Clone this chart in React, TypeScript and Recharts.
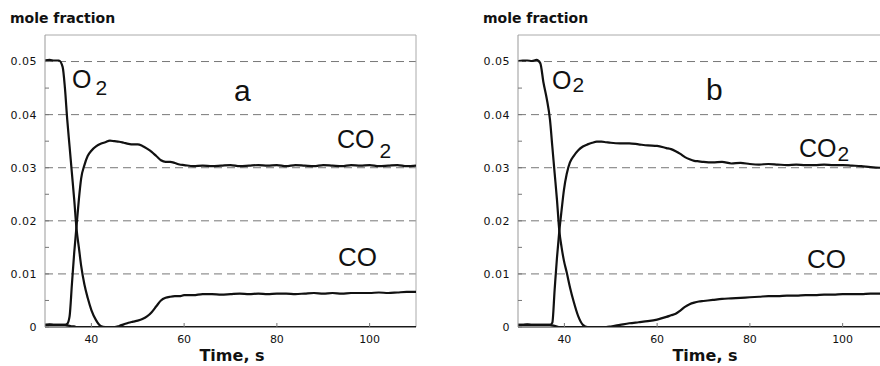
import { LineChart, Line, XAxis, YAxis, ReferenceLine } from 'recharts';

// panel a
const timeA = [30, 31, 32, 33, 33.8, 34.3, 34.8, 35.3, 35.8, 36.3, 36.8, 37.3, 37.8, 38.5, 39.2, 40, 41, 42, 43, 44, 45, 46, 47, 48, 49, 50, 51, 52, 53, 54, 55, 56, 57, 58, 59, 60, 62, 64, 66, 68, 70, 72, 74, 76, 78, 80, 82, 84, 86, 88, 90, 92, 94, 96, 98, 100, 102, 104, 106, 108, 110];
const o2A = [0.0502, 0.0503, 0.0502, 0.0502, 0.049, 0.045, 0.039, 0.034, 0.029, 0.024, 0.0185, 0.015, 0.0115, 0.008, 0.0055, 0.0032, 0.0013, 0.0002, 0, 0, 0, 0, 0, 0, 0, 0, 0, 0, 0, 0, 0, 0, 0, 0, 0, 0, 0, 0, 0, 0, 0, 0, 0, 0, 0, 0, 0, 0, 0, 0, 0, 0, 0, 0, 0, 0, 0, 0, 0, 0, 0];
const co2A = [0.0004, 0.0005, 0.0004, 0.0004, 0.0004, 0.0004, 0.0006, 0.002, 0.008, 0.014, 0.019, 0.024, 0.028, 0.0305, 0.0322, 0.0332, 0.034, 0.0345, 0.0348, 0.0351, 0.035, 0.0349, 0.0347, 0.0345, 0.0344, 0.0344, 0.0341, 0.0336, 0.033, 0.0322, 0.0314, 0.0311, 0.0311, 0.0309, 0.0306, 0.0305, 0.0303, 0.0304, 0.0303, 0.0304, 0.0305, 0.0303, 0.0304, 0.0305, 0.0304, 0.0305, 0.0303, 0.0305, 0.0304, 0.0303, 0.0305, 0.0304, 0.0303, 0.0305, 0.0304, 0.0305, 0.0303, 0.0304, 0.0305, 0.0303, 0.0304];
const coA = [0.0004, 0.0004, 0.0004, 0.0004, 0.0004, 0.0004, 0.0003, 0.0002, 0.0001, 0.0001, 0, 0, 0, 0, 0, 0, 0, 0, 0, 0, 0, 0.0002, 0.0005, 0.0008, 0.001, 0.0012, 0.0015, 0.002, 0.0028, 0.0039, 0.005, 0.0055, 0.0057, 0.0058, 0.0058, 0.006, 0.006, 0.0062, 0.0062, 0.0061, 0.0062, 0.0063, 0.0062, 0.0063, 0.0062, 0.0063, 0.0063, 0.0062, 0.0063, 0.0064, 0.0063, 0.0064, 0.0063, 0.0064, 0.0064, 0.0064, 0.0065, 0.0064, 0.0065, 0.0066, 0.0066];

// panel b
const timeB = [30, 31, 32, 33, 34, 34.8, 35.5, 36.2, 36.9, 37.4, 37.9, 38.4, 38.9, 39.4, 39.9, 40.5, 41.2, 42, 43, 44, 45, 46, 47, 48, 49, 50, 52, 54, 56, 58, 60, 62, 63, 64, 65, 66, 67, 68, 69, 70, 72, 74, 76, 78, 80, 82, 84, 86, 88, 90, 92, 94, 96, 98, 100, 102, 104, 106, 108, 110];
const o2B = [0.0501, 0.0502, 0.0502, 0.0501, 0.0503, 0.0497, 0.046, 0.043, 0.039, 0.034, 0.029, 0.024, 0.0182, 0.015, 0.0125, 0.0103, 0.0075, 0.0048, 0.002, 0.0004, 0, 0, 0, 0, 0, 0, 0, 0, 0, 0, 0, 0, 0, 0, 0, 0, 0, 0, 0, 0, 0, 0, 0, 0, 0, 0, 0, 0, 0, 0, 0, 0, 0, 0, 0, 0, 0, 0, 0, 0];
const co2B = [0.0004, 0.0004, 0.0005, 0.0004, 0.0004, 0.0004, 0.0004, 0.0004, 0.0004, 0.0008, 0.007, 0.013, 0.018, 0.022, 0.0258, 0.0288, 0.031, 0.0322, 0.0333, 0.034, 0.0344, 0.0347, 0.0349, 0.0349, 0.0348, 0.0347, 0.0346, 0.0346, 0.0344, 0.0342, 0.0341, 0.0337, 0.0335, 0.0331, 0.0326, 0.032, 0.0316, 0.0313, 0.0312, 0.0311, 0.031, 0.0311, 0.0308, 0.0309, 0.0307, 0.0306, 0.0307, 0.0306, 0.0305, 0.0306, 0.0305, 0.0305, 0.0306, 0.0305, 0.0305, 0.0304, 0.0303, 0.0301, 0.03, 0.0302];
const coB = [0.0004, 0.0004, 0.0004, 0.0004, 0.0004, 0.0004, 0.0004, 0.0004, 0.0004, 0.0003, 0.0002, 0.0001, 0, 0, 0, 0, 0, 0, 0, 0, 0, 0, 0, 0, 0, 0.0001, 0.0004, 0.0007, 0.0009, 0.0011, 0.0014, 0.0019, 0.0022, 0.0025, 0.0031, 0.0038, 0.0043, 0.0046, 0.0048, 0.0049, 0.0051, 0.0053, 0.0054, 0.0055, 0.0056, 0.0057, 0.0058, 0.0058, 0.0059, 0.0059, 0.006, 0.006, 0.0061, 0.0061, 0.0062, 0.0062, 0.0062, 0.0063, 0.0063, 0.0063];

const yTicks = [0, 0.005, 0.01, 0.015, 0.02, 0.025, 0.03, 0.035, 0.04, 0.045, 0.05];
const gridValues = [0.01, 0.02, 0.03, 0.04, 0.05];
const xTicks = [40, 60, 80, 100];

const tickFont = { fontFamily: '"DejaVu Sans", sans-serif', fontSize: 11 };
const annFont = '"Liberation Sans", Arial, sans-serif';

const YTick = (props: any) => {
  const { x, y, payload } = props;
  const v = payload.value;
  const major = Math.abs(v * 100 - Math.round(v * 100)) < 1e-6;
  const label = v === 0 ? '0' : v.toFixed(2);
  return (
    <g>
      <line x1={x + 8} x2={x + 12} y1={y} y2={y} stroke="#777" strokeWidth={1} />
      {major && (
        <text x={x} y={y} dy="0.355em" textAnchor="end" fill="#111" letterSpacing={0.5} {...tickFont}>
          {label}
        </text>
      )}
    </g>
  );
};

const XTick = (props: any) => {
  const { x, y, payload } = props;
  return (
    <g>
      <line x1={x} x2={x} y1={y - 8} y2={y - 12} stroke="#777" strokeWidth={1} />
      <text x={x} y={y} dy="0.71em" textAnchor="middle" fill="#111" {...tickFont}>
        {payload.value}
      </text>
    </g>
  );
};

type Ann = {
  o2: [number, number, number, number];
  tag: string;
  tagPos: [number, number];
  co2: [number, number, number, number];
  co: [number, number];
};

function Panel({ time, o2, co2, co, ann }: { time: number[]; o2: number[]; co2: number[]; co: number[]; ann: Ann }) {
  const rows = time.map((t, i) => ({ t, o2: o2[i], co2: co2[i], co: co[i] }));
  return (
    <div style={{ position: 'relative', width: 440, height: 366 }}>
      <LineChart width={440} height={366} data={rows} margin={{ top: 35, right: 24, bottom: 0, left: 0 }}>
        <XAxis
          dataKey="t"
          type="number"
          domain={[30, 110]}
          ticks={xTicks}
          allowDataOverflow
          height={39}
          tickLine={false}
          stroke="#222"
          tick={<XTick />}
        />
        <YAxis
          type="number"
          domain={[0, 0.055]}
          ticks={yTicks}
          allowDataOverflow
          width={45}
          tickLine={false}
          stroke="#999"
          tick={<YTick />}
        />
        {gridValues.map((g) => (
          <ReferenceLine key={g} y={g} stroke="#777" strokeDasharray="8 5" strokeWidth={1} />
        ))}
        <ReferenceLine y={0.055} stroke="#aaa" strokeWidth={1} />
        <ReferenceLine x={110} stroke="#aaa" strokeWidth={1} />
        <Line type="monotone" dataKey="o2" stroke="#111" strokeWidth={2.2} dot={false} isAnimationActive={false} />
        <Line type="monotone" dataKey="co2" stroke="#111" strokeWidth={2.2} dot={false} isAnimationActive={false} />
        <Line type="monotone" dataKey="co" stroke="#111" strokeWidth={2.2} dot={false} isAnimationActive={false} />
      </LineChart>
      <svg width={440} height={366} style={{ position: 'absolute', left: 0, top: 0, pointerEvents: 'none' }}>
        <text x={10} y={23} fontFamily='"DejaVu Sans", sans-serif' fontWeight="bold" fontSize={14} fill="#111">
          mole fraction
        </text>
        <text x={232} y={361} textAnchor="middle" fontFamily='"DejaVu Sans", sans-serif' fontWeight="bold" fontSize={16} fill="#111">
          Time, s
        </text>
        <text x={ann.o2[0]} y={ann.o2[1]} fontFamily={annFont} fontSize={25} fill="#111">
          O
          <tspan dx={ann.o2[2]} dy={ann.o2[3]} fontSize={21}>2</tspan>
        </text>
        <text x={ann.tagPos[0]} y={ann.tagPos[1]} fontFamily={annFont} fontSize={30} fill="#111">
          {ann.tag}
        </text>
        <text x={ann.co2[0]} y={ann.co2[1]} fontFamily={annFont} fontSize={25} fill="#111">
          CO
          <tspan dx={ann.co2[2]} dy={ann.co2[3]} fontSize={21}>2</tspan>
        </text>
        <text x={ann.co[0]} y={ann.co[1]} fontFamily={annFont} fontSize={26} fill="#111">
          CO
        </text>
      </svg>
    </div>
  );
}

const annA: Ann = { o2: [72, 88, 4, 7], tag: 'a', tagPos: [234, 101], co2: [337, 148, 5, 10], co: [338, 266] };
const annB: Ann = { o2: [79, 89, 1, 3], tag: 'b', tagPos: [233, 100], co2: [326, 157, 1, 4], co: [334, 268] };

export default function App() {
  return (
    <div style={{ position: 'absolute', left: 0, top: 0, width: 880, height: 366, overflow: 'hidden', background: '#fff' }}>
      <div style={{ position: 'absolute', left: 0, top: 0 }}>
        <Panel time={timeA} o2={o2A} co2={co2A} co={coA} ann={annA} />
      </div>
      <div style={{ position: 'absolute', left: 473, top: 0 }}>
        <Panel time={timeB} o2={o2B} co2={co2B} co={coB} ann={annB} />
      </div>
    </div>
  );
}
